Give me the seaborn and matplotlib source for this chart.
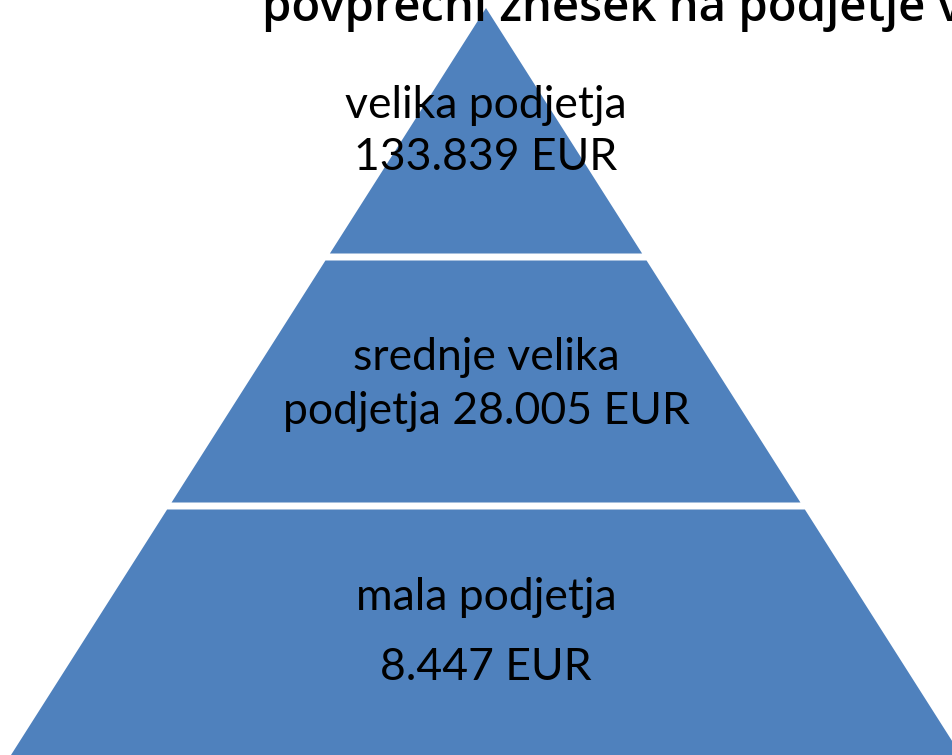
import numpy as np
import matplotlib.pyplot as plt
import seaborn as sns

# Tier data, top of the pyramid first
tier_names = ["velika podjetja", "srednje velika", "mala podjetja"]
tier_values = [133839, 28005, 8447]
title_text = "povprečni znesek na podjetje v"

sns.set_theme(style="white")
plt.rcParams['font.family'] = ['Lato', 'DejaVu Sans']

fill_color = "#4F81BD"


def eur(v):
    return f"{v:,}".replace(",", ".") + " EUR"


# Tier label lines (second tier wraps differently on the slide)
label_lines = [
    [tier_names[0], eur(tier_values[0])],
    [tier_names[1], "podjetja " + eur(tier_values[1])],
    [tier_names[2], eur(tier_values[2])],
]
label_y = [[105, 157], [358, 411], [597, 667]]

fig = plt.figure(figsize=(9.52, 7.55), dpi=100)
ax = fig.add_axes([0, 0, 1, 1])
ax.set_xlim(0, 952)
ax.set_ylim(755, 0)
ax.axis('off')

apex_x, apex_y = 486, 8
base_y = 755
base_half = 475
gap = 3.5
n = len(tier_names)
h = (base_y - apex_y) / n


def half_width(y):
    return base_half * (y - apex_y) / (base_y - apex_y)


for i in range(n):
    top = apex_y + i * h + (gap if i > 0 else 0)
    bot = apex_y + (i + 1) * h - (gap if i < n - 1 else 0)
    xs = [apex_x - half_width(top), apex_x + half_width(top),
          apex_x + half_width(bot), apex_x - half_width(bot)]
    ys = [top, top, bot, bot]
    ax.fill(xs, ys, color=fill_color, lw=0)
    for line, y in zip(label_lines[i], label_y[i]):
        ax.text(apex_x, y, line, ha='center', va='center', fontsize=32, color='black')

# Title sits mostly above the visible area, as on the slide
fig.text(262 / 952, 1 - 21 / 755, title_text, ha='left', va='baseline',
         fontsize=34, fontweight='semibold', color='black',
         family=['Open Sans', 'DejaVu Sans'])

fig.savefig("out.png", dpi=100)
